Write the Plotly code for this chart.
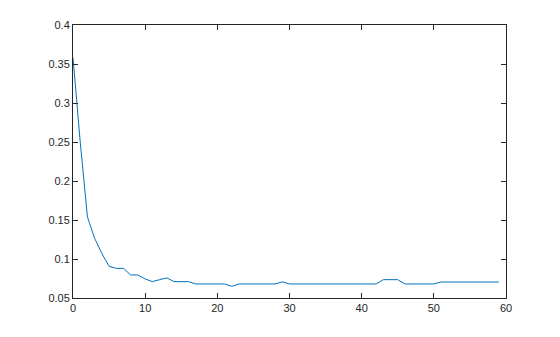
import plotly.graph_objects as go

x_vals = list(range(60))
y_vals = [0.358, 0.25, 0.154, 0.1265, 0.107, 0.0906, 0.088, 0.088, 0.0795, 0.0795,
          0.0744, 0.071, 0.0735, 0.0758, 0.071, 0.071, 0.071, 0.068, 0.068, 0.068,
          0.068, 0.068, 0.065, 0.068, 0.068, 0.068, 0.068, 0.068, 0.068, 0.0707,
          0.068, 0.068, 0.068, 0.068, 0.068, 0.068, 0.068, 0.068, 0.068, 0.068,
          0.068, 0.068, 0.068, 0.0735, 0.0735, 0.0735, 0.068, 0.068, 0.068, 0.068,
          0.068, 0.0705, 0.0705, 0.0705, 0.0705, 0.0705, 0.0705, 0.0705, 0.0705, 0.0705]
x_ticks = [0, 10, 20, 30, 40, 50, 60]
y_ticks = [0.05, 0.1, 0.15, 0.2, 0.25, 0.3, 0.35, 0.4]
y_tick_labels = ["0.05", "0.1", "0.15", "0.2", "0.25", "0.3", "0.35", "0.4"]

fig = go.Figure(go.Scatter(x=x_vals, y=y_vals, mode="lines",
                           line=dict(color="#0072BD", width=1)))

axis_common = dict(showgrid=False, zeroline=False, showline=True, linecolor="#262626",
                   linewidth=1, mirror="ticks", ticks="inside", ticklen=5,
                   tickcolor="#262626", tickfont=dict(family="Liberation Sans, Arial", size=11, color="#262626"))
fig.update_xaxes(range=[0, 60], tickvals=x_ticks, **axis_common)
fig.update_yaxes(range=[0.05, 0.4], tickvals=y_ticks, ticktext=y_tick_labels, **axis_common)
fig.update_layout(width=560, height=337, margin=dict(l=73, r=54, t=25, b=39),
                  paper_bgcolor="white", plot_bgcolor="white", showlegend=False)
fig.write_html("out.html")
